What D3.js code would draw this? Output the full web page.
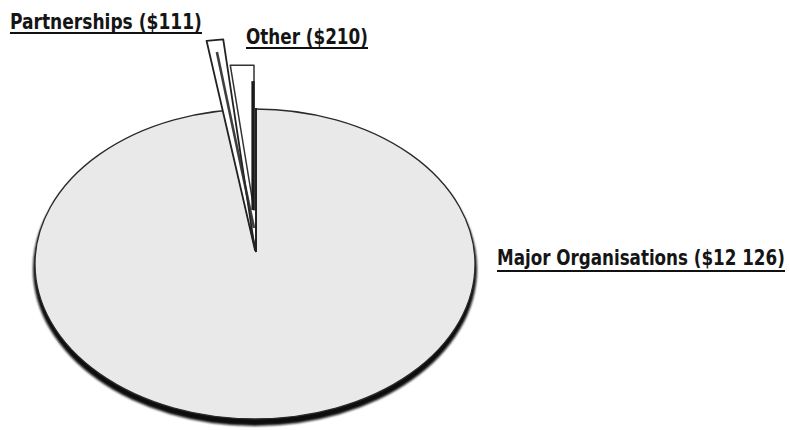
<!DOCTYPE html>
<html><head><meta charset="utf-8">
<script src="https://cdn.jsdelivr.net/npm/d3@7"></script>
<style>html,body{margin:0;padding:0;background:#fff}</style>
</head><body>
<svg id="c" width="790" height="430"></svg>
<script>
const categories = ["Major Organisations", "Partnerships", "Other"];
const values = [12126, 111, 210];
const labels = ["Major Organisations ($12 126)", "Partnerships ($111)", "Other ($210)"];

const svg = d3.select("#c");

// geometry
const cx = 255, cy = 266, rx = 221, ry = 156; // ellipse outline
const ax = 256, ay = 252;                       // pie apex

const pie = d3.pie().sort(null).value(d => d.v);
const arcs = pie(categories.map((c, i) => ({c, v: values[i], label: labels[i]})));

const defs = svg.append("defs");
defs.append("filter").attr("id", "blur").attr("x", "-5%").attr("y", "-5%").attr("width", "110%").attr("height", "110%")
  .append("feGaussianBlur").attr("stdDeviation", 1.3);

// main body: dark 3D shadow ellipse then light face
svg.append("ellipse").attr("cx", cx).attr("cy", cy + 3).attr("rx", rx + 1).attr("ry", ry + 1)
  .attr("fill", "#111").attr("filter", "url(#blur)");
svg.append("ellipse").attr("cx", cx).attr("cy", cy - 2).attr("rx", rx - 1).attr("ry", ry - 1)
  .attr("fill", "#e9e9e9").attr("stroke", "#2a2a2a").attr("stroke-width", 1.3);

function edgePt(a, scale = 1, ox = 0, oy = 0) {
  const dx = Math.sin(a) * rx, dy = -Math.cos(a) * ry;
  const X = ax - cx, Y = ay - cy;
  const A = dx * dx / (rx * rx) + dy * dy / (ry * ry);
  const B = 2 * (X * dx / (rx * rx) + Y * dy / (ry * ry));
  const C = X * X / (rx * rx) + Y * Y / (ry * ry) - 1;
  const t = (-B + Math.sqrt(B * B - 4 * A * C)) / (2 * A);
  return [ax + ox + dx * t * scale, ay + oy + dy * t * scale];
}

// gap of the main slice
const gapStart = arcs[0].endAngle, gapEnd = 2 * Math.PI;
{
  const p1 = edgePt(gapStart), p2 = edgePt(gapEnd);
  svg.append("path").attr("d", `M${ax},${ay}L${p1[0]},${p1[1] - 2}L${p2[0]},${p2[1] - 2}Z`)
    .attr("fill", "#fff").attr("stroke", "none");
  svg.append("path").attr("d", `M${p1[0]},${p1[1] - 2}L${ax},${ay}L${p2[0]},${p2[1] - 2}`)
    .attr("fill", "none").attr("stroke", "#222").attr("stroke-width", 2);
}

// exploded slices
const explode = {"Partnerships": {ox: -1, oy: -2, scale: 1.49}, "Other": {ox: -2, oy: -42, scale: 1.02}};
arcs.slice(1).forEach(d => {
  const e = explode[d.data.c];
  const a0 = d.startAngle - 2 * Math.PI, a1 = d.endAngle - 2 * Math.PI;
  const q0 = edgePt(a0, e.scale, e.ox, e.oy), q1 = edgePt(a1, e.scale, e.ox, e.oy);
  const apx = ax + e.ox, apy = ay + e.oy;
  const g = svg.append("g");
  if (d.data.c === "Other") {
    g.append("path").attr("d", `M${apx},${apy}L${q0[0] - 2},${q1[1]}L${q1[0]},${q1[1]}Z`)
      .attr("fill", "#fff").attr("stroke", "#333").attr("stroke-width", 1.5).attr("stroke-linejoin", "round");
    g.append("line").attr("x1", q1[0] - 1).attr("y1", q1[1] + 16).attr("x2", apx - 1).attr("y2", apy)
      .attr("stroke", "#1a1a1a").attr("stroke-width", 3.2);
  } else {
    g.append("path").attr("d", `M${apx},${apy}L${q0[0]},${q0[1]}L${q1[0]},${q1[1]}Z`)
      .attr("fill", "#fff").attr("stroke", "#222").attr("stroke-width", 1.8).attr("stroke-linejoin", "round");
    const m0 = [q0[0] * 0.5 + q1[0] * 0.5, q0[1] * 0.5 + q1[1] * 0.5];
    g.append("line").attr("x1", m0[0] + 2).attr("y1", m0[1] + 12).attr("x2", apx - 1).attr("y2", apy - 22)
      .attr("stroke", "#2a2a2a").attr("stroke-width", 2.6).attr("opacity", 0.9);
  }
});

// labels: fit width by font size, restore height by vertical scale
const lab = [
  {i: 1, x: 10, y: 29, w: 192, uy: 33},
  {i: 2, x: 246, y: 44, w: 122, uy: 48},
  {i: 0, x: 497, y: 265, w: 288, uy: 271}
];
const baseFs = 21;
lab.forEach(l => {
  const t = svg.append("text").attr("x", 0).attr("y", 0)
    .attr("font-family", "'DejaVu Sans Condensed','Roboto Condensed','Liberation Sans Narrow',Roboto,sans-serif")
    .attr("font-weight", "bold").attr("font-size", baseFs).attr("fill", "#151515")
    .text(labels[l.i]);
  const w0 = t.node().getComputedTextLength();
  const s = l.w / w0;
  t.attr("font-size", baseFs * s)
   .attr("transform", `translate(${l.x},${l.y}) scale(1,${1 / s})`);
  svg.append("line").attr("x1", l.x).attr("x2", l.x + l.w).attr("y1", l.uy).attr("y2", l.uy)
    .attr("stroke", "#111").attr("stroke-width", 2);
});
</script>
</body></html>
